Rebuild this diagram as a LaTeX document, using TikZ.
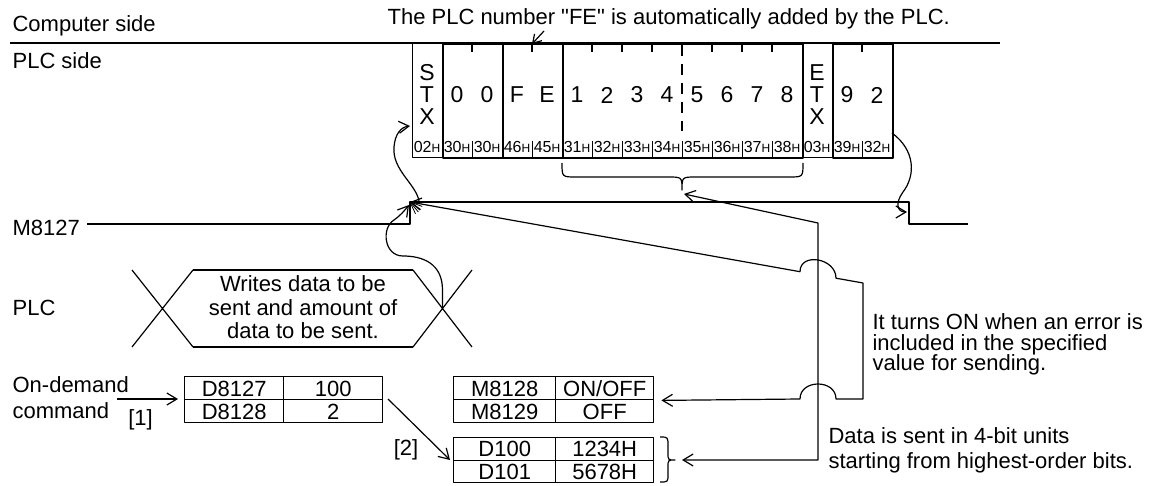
\documentclass[tikz,border=0pt]{standalone}
\usepackage{fontspec}
\setmainfont{Liberation Sans}[Ligatures=TeXOff]
\usetikzlibrary{arrows.meta}
\newcommand\hx[1]{#1{\fontsize{12}{12}\selectfont H}}
\begin{document}
\begin{tikzpicture}[x=1pt,y=-1pt,line width=1.2pt,line join=round,
  big/.style={font=\fontsize{22}{24}\selectfont,inner sep=0pt},
  boxch/.style={font=\fontsize{23}{24}\selectfont,inner sep=0pt},
  small/.style={font=\fontsize{16}{16}\selectfont,inner sep=0pt},
  framebox/.style={draw,line width=1.6pt,inner sep=0pt,anchor=north west,minimum height=114},
  ctrlbox/.style={draw,line width=0.8pt,inner sep=0pt,anchor=north west,minimum height=114,minimum width=30},
  cell/.style={draw,line width=1.4pt,inner sep=0pt,anchor=north west,minimum height=23,text height=16,text depth=0pt,font=\fontsize{22}{24}\selectfont},
  barb/.style={-{Straight Barb[length=10pt,width=12pt]}},
  barbs/.style={{Straight Barb[length=10pt,width=12pt]}-{Straight Barb[length=10pt,width=12pt]}},
  tick/.style={line width=1.2pt},
  sep/.style={line width=1pt}]
\useasboundingbox (0,0) rectangle (1158,486);

% ---- header lines and labels
\coordinate (topL) at (10,43);
\coordinate (topR) at (1000,43);
\draw[line width=1.4pt] (topL) -- (topR);
\node[big,anchor=base west] (cs) at (12,32) {Computer side};
\node[big,anchor=base west] (ps) at (12,69) {PLC side};
\node[big,anchor=base west] (note) at (387,25) {The PLC number "FE" is automatically added by the PLC.};

% ---- frame boxes
\node[ctrlbox] (stx) at (412,43) {};
\node[ctrlbox] (etx) at (802,43) {};
\node[framebox,minimum width=60] (b00) at (442,43) {};
\node[framebox,minimum width=60] (bfe) at (502,43) {};
\node[framebox,minimum width=240] (bdata) at (562,43) {};
\node[framebox,minimum width=60] (b92) at (832,43) {};

% ticks on top and separators at bottom
\foreach \x in {472,532,592,622,652,712,742,772,862}{
  \draw[tick] (\x,43) -- (\x,52);
  \draw[sep] (\x,141) -- (\x,157);
}
\draw[sep] (682,141) -- (682,157);
\draw[line width=1.2pt,dash pattern=on 11pt off 8pt] (682,45) -- (682,131);

% big characters
\foreach \c/\y [count=\i] in {S/73,T/95,X/117}{
  \node[boxch] (stx\i) at (427,\y) {\c};
}
\foreach \c/\y [count=\i] in {E/73,T/95,X/117}{
  \node[boxch] (etx\i) at (817,\y) {\c};
}
\foreach \c/\x [count=\i] in {0/457,0/487,F/517,E/547,1/577,2/607,3/637,4/667,5/697,6/727,7/757,8/787,9/847,2/877}{
  \node[boxch] (ch\i) at (\x,95) {\c};
}
% hex codes
\foreach \c/\x [count=\i] in {02/427,30/457,30/487,46/517,45/547,31/577,32/607,33/637,34/667,35/697,36/727,37/757,38/787,03/817,39/847,32/877}{
  \node[small,anchor=base] (hx\i) at (\x,153) {\hx{\c}};
}

% FE note arrow
\coordinate (feA) at (544,31);
\coordinate (feB) at (532,44);
\draw[-{Straight Barb[length=8pt,width=10pt]}] (feA) -- (feB);

% brace under data
\coordinate (brA) at (682,190);
\draw (562,163) .. controls (562,177) .. (576,177) -- (668,177) .. controls (682,177) .. (brA)
      .. controls (682,177) .. (696,177) -- (789,177) .. controls (803,177) .. (803,163);

% ---- M8127 signal
\node[big,anchor=base west] (m8127) at (12,236) {M8127};
\coordinate (rise) at (410,202);
\coordinate (fall) at (909,202);
\draw (87,224) -- (410,224) -- (rise) -- (fall) -- (909,224) -- (968,224);

% ---- PLC hexagon
\node[big,anchor=base west] (plc) at (12,315) {PLC};
\coordinate (xl) at (162.2,308.5);
\coordinate (xr) at (442.5,308.5);
\draw (132,270) -- (193,347) (132,347) -- (193,270);
\draw (413,270) -- (472,347) (413,347) -- (472,270);
\draw (193,270) -- (413,270) (193,347) -- (413,347);
\node[big,anchor=base] (w1) at (303,291.5) {Writes data to be};
\node[big,anchor=base] (w2) at (303,315) {sent and amount of};
\node[big,anchor=base] (w3) at (303,338.5) {data to be sent.};

% ---- curved arrows
\coordinate (stxin) at (410,126);
\draw[barb] (419,201) .. controls (416,184) and (392,170) .. (394,147) .. controls (395,134) and (401,127) .. (stxin);
\draw[barb] (xr) -- (442.5,290) .. controls (442.5,263) and (422,256) .. (403,256)
      .. controls (384,256) and (381,228) .. (394,220) .. controls (400,216) and (405,210) .. (409,205);
\coordinate (out92) at (892,133);
\coordinate (fallin) at (907,212);
\draw[barb] (out92) .. controls (915,150) and (916,175) .. (903,192) .. controls (895,203) and (897,212) .. (fallin);
% fan of arrowheads at rising edge
\foreach \a in {200,215,230,245}{
  \draw[line width=0.8pt] (rise) -- ++(\a:-13);
}

% ---- On-demand command and tables
\node[big,anchor=base west] (od1) at (12,392) {On-demand};
\node[big,anchor=base west] (od2) at (12,418) {command};
\node[big,anchor=base] (n1) at (140.5,425) {[1]};
\node[cell,minimum width=99] (d8127) at (184,376) {D8127};
\node[cell,minimum width=99] (v8127) at (283,376) {100};
\node[cell,minimum width=99] (d8128) at (184,399) {D8128};
\node[cell,minimum width=99] (v8128) at (283,399) {2};
\draw[barb] (117,399) -- ([xshift=-6pt]d8128.north west);

\node[cell,minimum width=102] (m8128) at (453,376) {M8128};
\node[cell,minimum width=98] (onoff) at (555,376) {ON/OFF};
\node[cell,minimum width=102] (m8129) at (453,399) {M8129};
\node[cell,minimum width=98] (off) at (555,399) {OFF};

\node[cell,minimum width=102,minimum height=22.5] (d100) at (453,437) {D100};
\node[cell,minimum width=98,minimum height=22.5] (v100) at (555,437) {1234H};
\node[cell,minimum width=102,minimum height=22.5] (d101) at (453,459.5) {D101};
\node[cell,minimum width=98,minimum height=22.5] (v101) at (555,459.5) {5678H};

\coordinate (a2s) at (388,399);
\coordinate (a2e) at (450,460);
\draw[barb] (a2s) -- (a2e);
\node[big,anchor=base] (n2) at (406,455) {[2]};

% brace beside D100/D101
\coordinate (brB) at (675,460);
\draw (660,437) .. controls (668,437) .. (668,446) -- (668,453) .. controls (668,460) .. (brB)
      .. controls (668,460) .. (668,467) -- (668,474) .. controls (668,482) .. (660,482);

% ---- connectors from the right
\draw[barbs] ([xshift=7pt]onoff.south east) -- (800,399) .. controls (800,379) and (836,379) .. (836,399)
   -- (863,399) -- (863,283) -- (836,278.2) .. controls (836,258) and (800,252) .. (800,271.7) -- (rise);
\draw[barbs] ([xshift=7pt]brB) -- (818,460) -- (818,223) -- ([shift={(2,4)}]brA);

% ---- right texts
\node[big,anchor=base west] (e1) at (872,329) {It turns ON when an error is};
\node[big,anchor=base west] (e2) at (872,350) {included in the specified};
\node[big,anchor=base west] (e3) at (872,370) {value for sending.};
\node[big,anchor=base west] (s1) at (828,443) {Data is sent in 4-bit units};
\node[big,anchor=base west] (s2) at (828,468) {starting from highest-order bits.};
\end{tikzpicture}
\end{document}
